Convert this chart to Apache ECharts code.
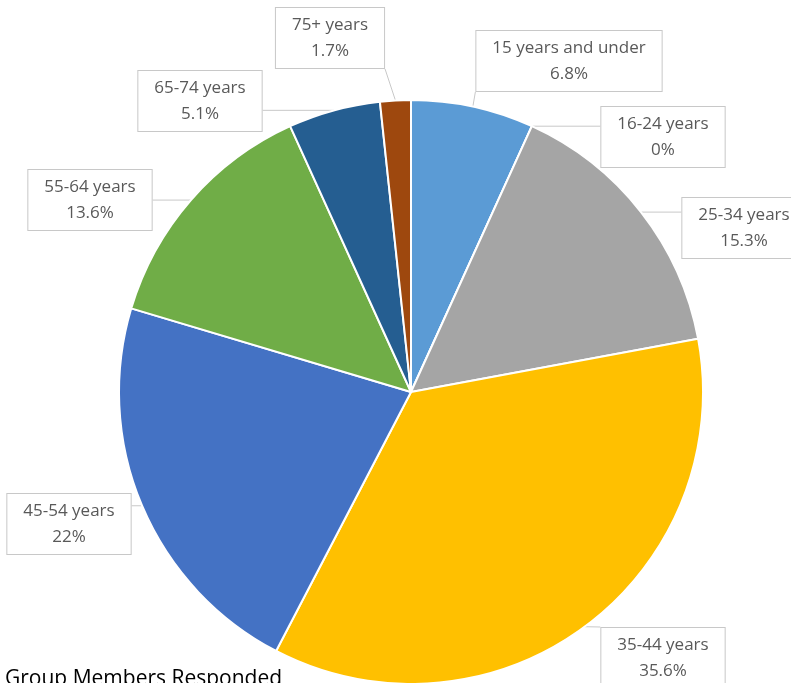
<!DOCTYPE html>
<html>
<head>
<meta charset="utf-8">
<script src="https://cdn.jsdelivr.net/npm/echarts@6/dist/echarts.min.js"></script>
<style>
  html, body { margin: 0; padding: 0; background: #fff; }
  #chart { width: 791px; height: 683px; }
</style>
</head>
<body>
<div id="chart"></div>
<script>
const categories = ['15 years and under', '16-24 years', '25-34 years', '35-44 years',
                    '45-54 years', '55-64 years', '65-74 years', '75+ years'];
const shares = [6.8, 0, 15.3, 35.6, 22, 13.6, 5.1, 1.7];
const colors = ['#5B9BD5', '#ED7D31', '#A5A5A5', '#FFC000',
                '#4472C4', '#70AD47', '#255E91', '#9E480E'];
// where each callout box sits (centre of box)
const labelSpots = [[569, 61], [663, 137], [744, 228], [663, 658],
                    [69, 524], [90, 200], [200, 101], [330, 38]];

// pie layout box is widened so the outside labels are never squeezed
const pad = 300;

const chart = echarts.init(document.getElementById('chart'));

chart.setOption({
    animation: false,
    title: {
        text: 'Group Members Responded',
        left: 0,
        top: 664,
        textStyle: {
            fontFamily: 'Open Sans',
            fontSize: 21,
            fontWeight: 'normal',
            color: '#000'
        }
    },
    series: [
        {
            type: 'pie',
            left: -pad,
            top: -pad,
            right: -pad,
            bottom: -pad,
            center: [411 + pad, 392 + pad],
            radius: 292,
            startAngle: 90,
            clockwise: true,
            data: categories.map((name, i) => ({
                name: name,
                value: shares[i],
                itemStyle: { color: colors[i] }
            })),
            itemStyle: {
                borderColor: '#fff',
                borderWidth: 2
            },
            label: {
                show: true,
                position: 'outside',
                formatter: '{b}\n{c}%',
                fontFamily: 'Open Sans',
                fontSize: 17,
                lineHeight: 26,
                color: '#595959',
                align: 'center',
                overflow: 'none',
                backgroundColor: '#fff',
                borderColor: '#C8C8C8',
                borderWidth: 1,
                padding: [4, 16]
            },
            labelLine: {
                show: true,
                lineStyle: { color: '#C8C8C8', width: 1 }
            },
            labelLayout: function (params) {
                const spot = labelSpots[params.dataIndex];
                const w = params.labelRect.width;
                const h = params.labelRect.height;
                const x0 = spot[0] - w / 2;
                const y0 = spot[1] - h / 2;
                const out = {
                    x: spot[0],
                    y: spot[1],
                    align: 'center',
                    verticalAlign: 'middle'
                };
                const pts = params.labelLinePoints;
                if (pts && pts.length) {
                    const a = pts[0];
                    const bx = Math.min(Math.max(a[0], x0), x0 + w);
                    const by = Math.min(Math.max(a[1], y0), y0 + h);
                    out.labelLinePoints = [[a[0], a[1]], [bx, by], [bx, by]];
                }
                return out;
            }
        }
    ]
});

window.addEventListener('resize', () => {
    chart.resize();
});
</script>
</body>
</html>
